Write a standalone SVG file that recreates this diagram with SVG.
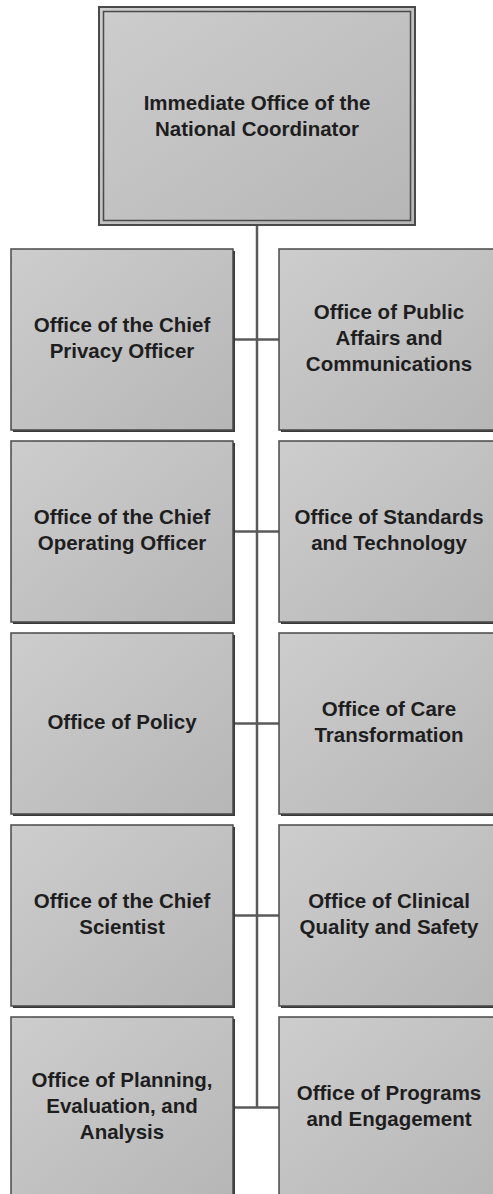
<svg xmlns="http://www.w3.org/2000/svg" width="493" height="1194" viewBox="0 0 493 1194">
  <defs>
    <linearGradient id="fill" x1="0" y1="0" x2="1" y2="1">
      <stop offset="0" stop-color="#cdcdcd"/>
      <stop offset="1" stop-color="#b6b6b6"/>
    </linearGradient>
  </defs>
  <style>
    .box { fill: url(#fill); stroke: #4a4a4a; stroke-width: 1.5; }
    .shadow { fill: #3a3a3a; }
    .conn { stroke: #5a5a5a; stroke-width: 2.5; fill: none; }
    text { font-family: "Liberation Sans", Arial, sans-serif; font-weight: bold; font-size: 20.5px; fill: #1e1e1e; text-anchor: middle; }
  </style>
  <rect width="493" height="1194" fill="#ffffff"/>

  <g id="connectors">
    <line class="conn" x1="257" y1="225" x2="257" y2="1108"/>
    <line class="conn" x1="234" y1="339.5" x2="280" y2="339.5"/>
    <line class="conn" x1="234" y1="531.5" x2="280" y2="531.5"/>
    <line class="conn" x1="234" y1="723.5" x2="280" y2="723.5"/>
    <line class="conn" x1="234" y1="915.5" x2="280" y2="915.5"/>
    <line class="conn" x1="234" y1="1107.5" x2="280" y2="1107.5"/>
  </g>

  <g id="n-top">
    <rect x="99" y="7" width="316" height="218" fill="url(#fill)" stroke="#4a4a4a" stroke-width="2"/>
    <rect x="103.5" y="11.5" width="307" height="209" fill="none" stroke="#4a4a4a" stroke-width="1.5"/>
    <text x="257" y="110">Immediate Office of the</text>
    <text x="257" y="136">National Coordinator</text>
  </g>

  <g id="n-privacy">
    <rect class="shadow" x="13" y="251" width="222" height="181"/>
    <rect class="box" x="11" y="249" width="222" height="181"/>
    <text x="122" y="332">Office of the Chief</text>
    <text x="122" y="358">Privacy Officer</text>
  </g>
  <g id="n-public">
    <rect class="shadow" x="281" y="251" width="222" height="181"/>
    <rect class="box" x="279" y="249" width="222" height="181"/>
    <text x="389" y="319">Office of Public</text>
    <text x="389" y="345">Affairs and</text>
    <text x="389" y="371">Communications</text>
  </g>

  <g id="n-coo">
    <rect class="shadow" x="13" y="443" width="222" height="181"/>
    <rect class="box" x="11" y="441" width="222" height="181"/>
    <text x="122" y="524">Office of the Chief</text>
    <text x="122" y="550">Operating Officer</text>
  </g>
  <g id="n-standards">
    <rect class="shadow" x="281" y="443" width="222" height="181"/>
    <rect class="box" x="279" y="441" width="222" height="181"/>
    <text x="389" y="524">Office of Standards</text>
    <text x="389" y="550">and Technology</text>
  </g>

  <g id="n-policy">
    <rect class="shadow" x="13" y="635" width="222" height="181"/>
    <rect class="box" x="11" y="633" width="222" height="181"/>
    <text x="122" y="729">Office of Policy</text>
  </g>
  <g id="n-care">
    <rect class="shadow" x="281" y="635" width="222" height="181"/>
    <rect class="box" x="279" y="633" width="222" height="181"/>
    <text x="389" y="716">Office of Care</text>
    <text x="389" y="742">Transformation</text>
  </g>

  <g id="n-scientist">
    <rect class="shadow" x="13" y="827" width="222" height="181"/>
    <rect class="box" x="11" y="825" width="222" height="181"/>
    <text x="122" y="908">Office of the Chief</text>
    <text x="122" y="934">Scientist</text>
  </g>
  <g id="n-clinical">
    <rect class="shadow" x="281" y="827" width="222" height="181"/>
    <rect class="box" x="279" y="825" width="222" height="181"/>
    <text x="389" y="908">Office of Clinical</text>
    <text x="389" y="934">Quality and Safety</text>
  </g>

  <g id="n-planning">
    <rect class="shadow" x="13" y="1019" width="222" height="181"/>
    <rect class="box" x="11" y="1017" width="222" height="181"/>
    <text x="122" y="1087">Office of Planning,</text>
    <text x="122" y="1113">Evaluation, and</text>
    <text x="122" y="1139">Analysis</text>
  </g>
  <g id="n-programs">
    <rect class="shadow" x="281" y="1019" width="222" height="181"/>
    <rect class="box" x="279" y="1017" width="222" height="181"/>
    <text x="389" y="1100">Office of Programs</text>
    <text x="389" y="1126">and Engagement</text>
  </g>
</svg>
